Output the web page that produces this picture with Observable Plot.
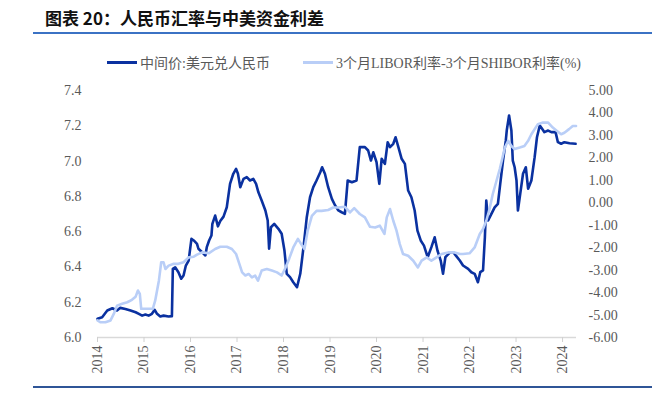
<!DOCTYPE html>
<html>
<head>
<meta charset="utf-8">
<script src="https://cdn.jsdelivr.net/npm/d3@7"></script>
<script src="https://cdn.jsdelivr.net/npm/@observablehq/plot@0.6"></script>
<style>
  html, body { margin: 0; padding: 0; background: #fff; }
  #wrap { position: relative; width: 663px; height: 397px; overflow: hidden; }
  #title { position: absolute; left: 45px; top: 7px; font-family: "Noto Sans CJK SC", "Noto Sans", sans-serif; font-weight: bold; font-size: 17px; line-height: 22px; color: #111; white-space: nowrap; }
  .rule { position: absolute; }
  .leg { position: absolute; top: 53px; height: 18px; display: flex; align-items: center; font-family: "Liberation Serif", "Noto Sans CJK SC", serif; font-size: 14px; color: #595959; white-space: nowrap; }
  .sw { display: inline-block; width: 30px; height: 3px; margin-right: 3px; }
  #chart { position: absolute; left: 0; top: 0; }
</style>
</head>
<body>
<div id="wrap">
  <div id="title">图表 20：人民币汇率与中美资金利差</div>
  <div class="rule" style="left:33px; top:32px; width:619px; height:2px; background:#3b72c4;"></div>
  <div class="leg" style="left:107px;"><span class="sw" style="background:#0a31a0;"></span><span id="leg1"></span></div>
  <div class="leg" style="left:303px;"><span class="sw" style="background:#b9cef7;"></span><span id="leg2"></span></div>
  <div id="chart"></div>
  <div class="rule" style="left:33px; top:386px; width:619px; height:2px; background:#2f5597;"></div>
</div>
<script>
// ---- series names ----
const seriesNames = ["中间价:美元兑人民币", "3个月LIBOR利率-3个月SHIBOR利率(%)"];

// ---- tick labels ----
const yearTicks = [2014, 2015, 2016, 2017, 2018, 2019, 2020, 2021, 2022, 2023, 2024];
const leftTicks = [6.0, 6.2, 6.4, 6.6, 6.8, 7.0, 7.2, 7.4];
const rightTicks = [-6, -5, -4, -3, -2, -1, 0, 1, 2, 3, 4, 5];

// ---- USD/CNY central parity (left axis), time in decimal years ----
const cnyDate = [
  2014.00, 2014.10, 2014.21, 2014.32, 2014.42, 2014.49, 2014.60, 2014.71, 2014.82, 2014.89,
  2014.96, 2015.03, 2015.10, 2015.17, 2015.23, 2015.28, 2015.35, 2015.42, 2015.53, 2015.60,
  2015.62, 2015.67, 2015.74, 2015.80, 2015.85, 2015.90, 2015.96, 2016.02, 2016.07, 2016.14,
  2016.17, 2016.25, 2016.32, 2016.35, 2016.40, 2016.45, 2016.47, 2016.53, 2016.59, 2016.64,
  2016.71, 2016.78, 2016.85, 2016.92, 2016.98, 2017.02, 2017.07, 2017.14, 2017.21, 2017.28,
  2017.35, 2017.41, 2017.46, 2017.53, 2017.61, 2017.66, 2017.69, 2017.73, 2017.80, 2017.89,
  2017.96, 2018.02, 2018.07, 2018.14, 2018.21, 2018.29, 2018.36, 2018.43, 2018.50, 2018.57,
  2018.64, 2018.71, 2018.79, 2018.83, 2018.89, 2018.96, 2019.04, 2019.11, 2019.18, 2019.25,
  2019.32, 2019.38, 2019.47, 2019.57, 2019.64, 2019.75, 2019.82, 2019.88, 2019.93, 2020.00,
  2020.06, 2020.11, 2020.18, 2020.24, 2020.29, 2020.36, 2020.41, 2020.47, 2020.54, 2020.61,
  2020.68, 2020.75, 2020.82, 2020.88, 2020.95, 2021.02, 2021.10, 2021.18, 2021.25, 2021.31,
  2021.38, 2021.43, 2021.48, 2021.58, 2021.65, 2021.72, 2021.79, 2021.86, 2021.97, 2022.04,
  2022.11, 2022.18, 2022.23, 2022.29, 2022.33, 2022.36, 2022.40, 2022.47, 2022.54, 2022.61,
  2022.66, 2022.72, 2022.78, 2022.80, 2022.85, 2022.90, 2022.93, 2022.97, 2023.01, 2023.04,
  2023.09, 2023.15, 2023.21, 2023.26, 2023.33, 2023.40, 2023.45, 2023.51, 2023.56, 2023.61,
  2023.69, 2023.76, 2023.85, 2023.90, 2023.97, 2024.04, 2024.15, 2024.28
];
const cnyRate = [
  6.106, 6.115, 6.153, 6.166, 6.153, 6.168, 6.162, 6.153, 6.143, 6.134,
  6.124, 6.130, 6.124, 6.134, 6.157, 6.134, 6.119, 6.124, 6.119, 6.121,
  6.389, 6.398, 6.370, 6.333, 6.351, 6.408, 6.436, 6.559, 6.550, 6.531,
  6.503, 6.483, 6.465, 6.512, 6.550, 6.578, 6.644, 6.691, 6.630, 6.660,
  6.685, 6.738, 6.871, 6.928, 6.956, 6.928, 6.852, 6.899, 6.909, 6.890,
  6.899, 6.871, 6.823, 6.776, 6.720, 6.663, 6.503, 6.625, 6.644, 6.616,
  6.588, 6.493, 6.361, 6.342, 6.313, 6.285, 6.361, 6.512, 6.682, 6.795,
  6.852, 6.890, 6.937, 6.965, 6.928, 6.852, 6.786, 6.748, 6.720, 6.710,
  6.701, 6.890, 6.880, 6.890, 7.079, 7.079, 7.060, 7.003, 7.050, 6.994,
  6.871, 7.013, 6.984, 7.107, 7.079, 7.098, 7.135, 7.079, 7.013, 6.984,
  6.833, 6.795, 6.720, 6.606, 6.550, 6.521, 6.455, 6.512, 6.568, 6.493,
  6.436, 6.361, 6.455, 6.483, 6.483, 6.460, 6.436, 6.408, 6.389, 6.370,
  6.361, 6.313, 6.370, 6.380, 6.568, 6.776, 6.663, 6.701, 6.738, 6.758,
  6.871, 7.003, 7.117, 7.173, 7.258, 7.173, 7.003, 6.965, 6.890, 6.720,
  6.814, 6.928, 6.965, 6.843, 6.890, 7.022, 7.135, 7.202, 7.183, 7.164,
  7.173, 7.164, 7.164, 7.107, 7.098, 7.107, 7.101, 7.098
];

// ---- 3M LIBOR - 3M SHIBOR spread, % (right axis) ----
const spreadDate = [
  2014.00, 2014.06, 2014.17, 2014.28, 2014.35, 2014.42, 2014.53, 2014.64, 2014.74, 2014.82,
  2014.87, 2014.91, 2014.94, 2014.99, 2015.10, 2015.19, 2015.24, 2015.32, 2015.37, 2015.42,
  2015.46, 2015.53, 2015.64, 2015.74, 2015.85, 2015.96, 2016.07, 2016.14, 2016.25, 2016.39,
  2016.53, 2016.64, 2016.78, 2016.89, 2016.98, 2017.05, 2017.11, 2017.18, 2017.25, 2017.32,
  2017.39, 2017.45, 2017.53, 2017.64, 2017.75, 2017.86, 2017.96, 2018.03, 2018.12, 2018.21,
  2018.31, 2018.38, 2018.45, 2018.52, 2018.61, 2018.71, 2018.82, 2018.96, 2019.07, 2019.18,
  2019.32, 2019.43, 2019.52, 2019.64, 2019.75, 2019.86, 2019.97, 2020.07, 2020.17, 2020.22,
  2020.29, 2020.36, 2020.43, 2020.50, 2020.57, 2020.68, 2020.79, 2020.89, 2020.97, 2021.08,
  2021.18, 2021.29, 2021.40, 2021.54, 2021.68, 2021.79, 2021.86, 2022.00, 2022.11, 2022.22,
  2022.29, 2022.36, 2022.43, 2022.50, 2022.58, 2022.65, 2022.70, 2022.76, 2022.83, 2022.90,
  2022.97, 2023.08, 2023.18, 2023.26, 2023.33, 2023.40, 2023.47, 2023.58, 2023.69, 2023.79,
  2023.88, 2023.97, 2024.04, 2024.14, 2024.22, 2024.29
];
const spreadValue = [
  -5.24, -5.32, -5.32, -5.24, -4.95, -4.58, -4.50, -4.43, -4.32, -4.18,
  -3.91, -4.06, -4.72, -4.72, -4.72, -4.72, -4.36, -3.47, -2.65, -2.65,
  -2.95, -2.80, -2.72, -2.72, -2.65, -2.43, -2.40, -2.31, -2.21, -2.25,
  -2.06, -1.96, -1.96, -2.06, -2.28, -2.72, -3.10, -3.24, -3.17, -3.32,
  -3.24, -3.47, -3.02, -2.95, -3.02, -3.10, -3.24, -2.95, -2.50, -1.99,
  -1.61, -1.84, -2.06, -1.24, -0.58, -0.36, -0.36, -0.32, -0.21, -0.21,
  -0.18, -0.43, -0.24, -0.50, -0.65, -1.07, -1.10, -1.02, -1.39, -0.65,
  -0.28, -0.80, -1.24, -1.84, -2.28, -2.36, -2.58, -2.88, -2.58, -2.43,
  -2.58, -2.43, -2.28, -2.21, -2.21, -2.28, -2.28, -2.25, -1.99, -1.39,
  -1.17, -0.80, -0.28, 0.39, 0.98, 1.50, 1.94, 2.46, 2.76, 2.53,
  2.39, 2.46, 2.53, 2.76, 3.05, 3.28, 3.50, 3.57, 3.57, 3.35,
  3.20, 3.05, 3.12, 3.28, 3.42, 3.42
];

document.getElementById("leg1").textContent = seriesNames[0];
document.getElementById("leg2").textContent = seriesNames[1];

// map right axis (-6..5) onto left axis (6.0..7.4)
const L0 = 6.0, L1 = 7.4, R0 = -6, R1 = 5;
const toLeft = v => L0 + (v - R0) * (L1 - L0) / (R1 - R0);
const fromLeft = y => R0 + (y - L0) * (R1 - R0) / (L1 - L0);

const dark = cnyDate.map((t, i) => ({t, v: cnyRate[i]}));
const light = spreadDate.map((t, i) => ({t, v: toLeft(spreadValue[i])}));

const chart = Plot.plot({
  width: 663,
  height: 397,
  marginTop: 90,
  marginBottom: 60,
  marginLeft: 97,
  marginRight: 87,
  style: {fontFamily: "'Liberation Serif', 'Times New Roman', serif", fontSize: "14px", color: "#595959", background: "transparent", overflow: "visible"},
  x: {domain: [2014, 2024.3], label: null},
  y: {domain: [L0, L1], label: null},
  marks: [
    Plot.ruleY([L0], {stroke: "#d9d9d9", strokeWidth: 1.5}),
    Plot.axisX({ticks: yearTicks, tickFormat: d => String(d), tickRotate: -90, tickSize: 5, tickPadding: 3, stroke: "#d0d0d0", fill: "#595959", label: null, fontSize: 14}),
    Plot.axisY({ticks: leftTicks, tickFormat: d => d.toFixed(1), anchor: "left", tickSize: 0, tickPadding: 16, fill: "#595959", label: null, fontSize: 14}),
    Plot.axisY({ticks: rightTicks.map(toLeft), tickFormat: d => Math.round(fromLeft(d)).toFixed(2), anchor: "right", tickSize: 0, tickPadding: 12, fill: "#595959", label: null, fontSize: 14}),
    Plot.line(dark, {x: "t", y: "v", stroke: "#0a31a0", strokeWidth: 2.6, strokeLinejoin: "round"}),
    Plot.line(light, {x: "t", y: "v", stroke: "#b9cef7", strokeWidth: 2.6, strokeLinejoin: "round"})
  ]
});
document.getElementById("chart").appendChild(chart);
</script>
</body>
</html>
